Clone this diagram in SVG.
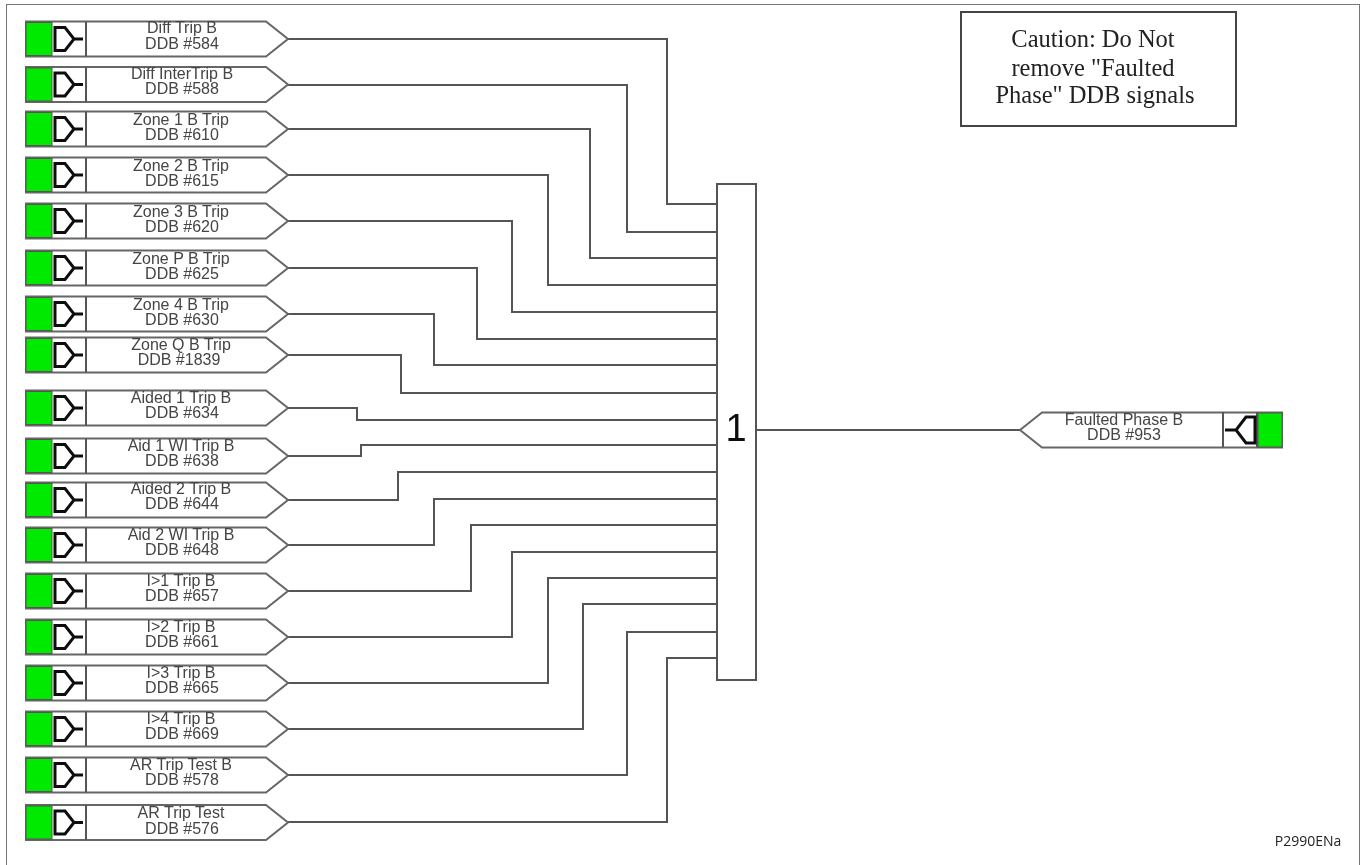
<svg xmlns="http://www.w3.org/2000/svg" width="1362" height="865" viewBox="0 0 1362 865">
<style>
.ln{fill:none;stroke:#555;stroke-width:2}
.tag{fill:#fff;stroke:#666;stroke-width:2}
.g{fill:#00ea00;stroke:#555;stroke-width:1}
.ic{fill:none;stroke:#111;stroke-width:3}
text{font-family:"Liberation Sans",Arial,sans-serif;font-size:16px;fill:#444;text-anchor:middle}
.s{font-family:"Liberation Serif","Times New Roman",serif;font-size:24.5px;fill:#222}
</style>
<defs>
<filter id="soft" x="0" y="0" width="100%" height="100%"><feGaussianBlur stdDeviation="0.5"/></filter>
<g id="in">
<path class="tag" d="M26 0H266L288 17.500L266 35H26Z"/>
<rect class="g" x="26" y="1" width="26" height="33"/>
<path class="ln" d="M86 0V35"/>
<path class="ic" d="M55 6H65L74 17.500L65 29H55ZM74 17.500H83"/>
</g>
</defs>
<rect width="1362" height="865" fill="#fff"/>
<g filter="url(#soft)">
<path d="M6 865V4H1360V865" fill="none" stroke="#777" stroke-width="2"/>
<g id="connectors" class="ln">
<path class="ln" d="M288 39H667V204H716"/>
<path class="ln" d="M288 85H627V232H716"/>
<path class="ln" d="M288 129H590V258H716"/>
<path class="ln" d="M288 175H548V285H716"/>
<path class="ln" d="M288 221H512V312H716"/>
<path class="ln" d="M288 268H477V339H716"/>
<path class="ln" d="M288 314H434V365H716"/>
<path class="ln" d="M288 355H401V393H716"/>
<path class="ln" d="M288 408H357V420H716"/>
<path class="ln" d="M288 456H361V445H716"/>
<path class="ln" d="M288 500H398V472H716"/>
<path class="ln" d="M288 545H434V499H716"/>
<path class="ln" d="M288 591H471V525H716"/>
<path class="ln" d="M288 637H512V552H716"/>
<path class="ln" d="M288 683H548V578H716"/>
<path class="ln" d="M288 729H583V604H716"/>
<path class="ln" d="M288 775H627V632H716"/>
<path class="ln" d="M288 822H667V658H716"/>
<path class="ln" d="M756 430H1020"/>
</g>
<g id="n1"><use href="#in" y="21.500"/><text x="182" y="33">Diff Trip B</text><text x="182" y="49">DDB #584</text></g>
<g id="n2"><use href="#in" y="67"/><text x="182" y="79">Diff InterTrip B</text><text x="182" y="94">DDB #588</text></g>
<g id="n3"><use href="#in" y="111.500"/><text x="181" y="125">Zone 1 B Trip</text><text x="182" y="140">DDB #610</text></g>
<g id="n4"><use href="#in" y="157.500"/><text x="181" y="171">Zone 2 B Trip</text><text x="182" y="186">DDB #615</text></g>
<g id="n5"><use href="#in" y="203.500"/><text x="181" y="217">Zone 3 B Trip</text><text x="182" y="232">DDB #620</text></g>
<g id="n6"><use href="#in" y="250.500"/><text x="181" y="264">Zone P B Trip</text><text x="182" y="279">DDB #625</text></g>
<g id="n7"><use href="#in" y="296.500"/><text x="181" y="310">Zone 4 B Trip</text><text x="182" y="325">DDB #630</text></g>
<g id="n8"><use href="#in" y="337.500"/><text x="181" y="350">Zone Q B Trip</text><text x="179" y="365">DDB #1839</text></g>
<g id="n9"><use href="#in" y="390.500"/><text x="181" y="403">Aided 1 Trip B</text><text x="182" y="418">DDB #634</text></g>
<g id="n10"><use href="#in" y="438.500"/><text x="181" y="451">Aid 1 WI Trip B</text><text x="182" y="466">DDB #638</text></g>
<g id="n11"><use href="#in" y="482.500"/><text x="181" y="494">Aided 2 Trip B</text><text x="182" y="509">DDB #644</text></g>
<g id="n12"><use href="#in" y="527.500"/><text x="181" y="540">Aid 2 WI Trip B</text><text x="182" y="555">DDB #648</text></g>
<g id="n13"><use href="#in" y="573.500"/><text x="181" y="586">I&gt;1 Trip B</text><text x="182" y="601">DDB #657</text></g>
<g id="n14"><use href="#in" y="619.500"/><text x="181" y="632">I&gt;2 Trip B</text><text x="182" y="647">DDB #661</text></g>
<g id="n15"><use href="#in" y="665.500"/><text x="181" y="678">I&gt;3 Trip B</text><text x="182" y="693">DDB #665</text></g>
<g id="n16"><use href="#in" y="711.500"/><text x="181" y="724">I&gt;4 Trip B</text><text x="182" y="739">DDB #669</text></g>
<g id="n17"><use href="#in" y="757.500"/><text x="181" y="770">AR Trip Test B</text><text x="182" y="785">DDB #578</text></g>
<g id="n18"><use href="#in" y="805"/><text x="181" y="818">AR Trip Test</text><text x="182" y="834">DDB #576</text></g>
<g id="or"><rect x="717" y="184" width="39" height="496" fill="#fff" stroke="#555" stroke-width="2"/><text x="736" y="441" style="font-size:38px;fill:#111">1</text></g>
<g id="out">
<path class="tag" d="M1020 430L1042 412.500H1282V447.500H1042Z"/>
<rect class="g" x="1258" y="413" width="24" height="34"/>
<path class="ln" d="M1223 412V447M1257 412V447"/>
<path class="ic" d="M1255 417H1246L1236 430L1246 443H1255ZM1236 430H1225"/>
<text x="1124" y="425">Faulted Phase B</text><text x="1124" y="440">DDB #953</text>
</g>
<g id="caution"><rect x="961" y="12" width="275" height="114" fill="#fff" stroke="#444" stroke-width="2"/>
<text class="s" x="1093" y="47">Caution: Do Not</text><text class="s" x="1093" y="76">remove "Faulted</text><text class="s" x="1095" y="103">Phase" DDB signals</text></g>
<text id="ref" x="1308" y="846" style="font-family:'Open Sans','Noto Sans',sans-serif;font-size:14px;fill:#222">P2990ENa</text>
</g>
</svg>
